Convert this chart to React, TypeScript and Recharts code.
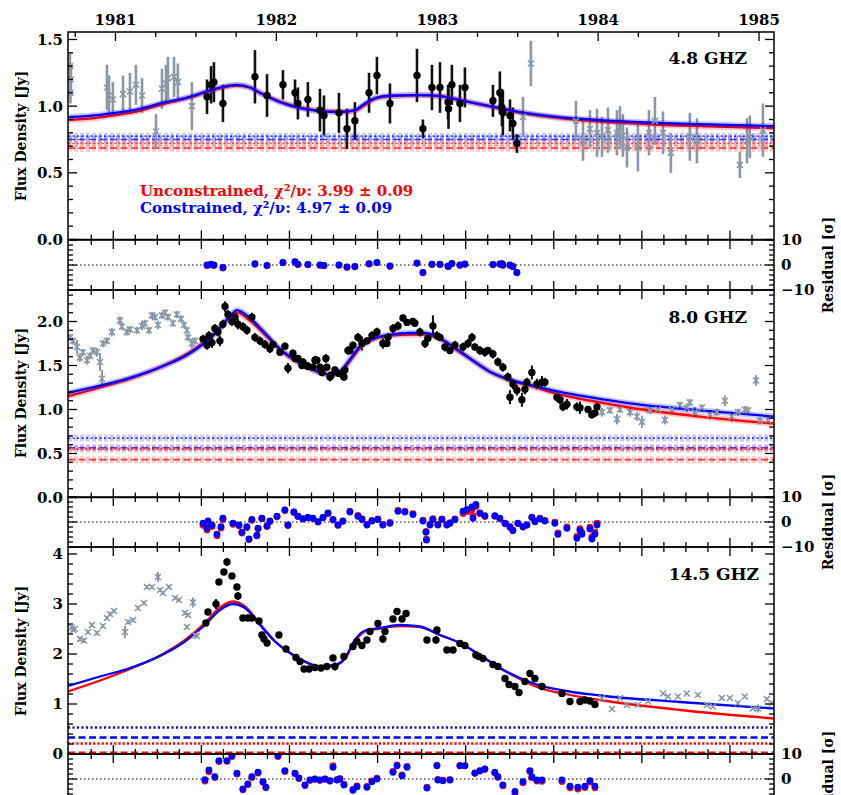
import React from 'react';
import { ComposedChart, Line, Scatter, ErrorBar, XAxis, YAxis, ReferenceLine } from 'recharts';

// x values are decimal years; the bottom ticks are MJD (every 50 d, long every 200 d)
const X_DOMAIN: [number, number] = [1980.705, 1985.093];
const W = 841;
const LEFT = 68;
const RIGHT = 774;
const FONT = '"DejaVu Serif", "Liberation Serif", serif';
const BLUE = '#0000ff';
const RED = '#ff0000';
const GRAY = '#8a98a7';

// ---------- 4.8 GHz ----------
const gray48 = [
  [1980.717, 1.3, 0.1], [1980.723, 1.2, 0.12], [1980.72, 1.1, 0.08], [1980.947, 1.14, 0.17],
  [1980.96, 1.08, 0.15], [1980.984, 1.05, 0.13], [1981.047, 1.09, 0.14], [1981.09, 1.11, 0.14],
  [1981.127, 1.16, 0.15], [1981.165, 1.08, 0.13], [1981.252, 0.81, 0.13], [1981.289, 1.13, 0.15],
  [1981.314, 1.17, 0.14], [1981.326, 1.21, 0.16], [1981.364, 1.22, 0.15], [1981.388, 1.18, 0.14],
  [1981.475, 1.0, 0.18], [1983.533, 0.92, 0.15], [1983.582, 1.32, 0.17], [1983.862, 0.89, 0.15],
  [1983.906, 0.74, 0.15], [1983.949, 0.83, 0.14], [1983.993, 0.8, 0.18], [1984.024, 0.77, 0.15],
  [1984.061, 0.82, 0.17], [1984.117, 0.8, 0.17], [1984.136, 0.84, 0.16], [1984.154, 0.78, 0.16],
  [1984.179, 0.69, 0.15], [1984.247, 0.69, 0.18], [1984.316, 0.8, 0.17], [1984.353, 0.89, 0.18],
  [1984.403, 0.8, 0.16], [1984.452, 0.65, 0.15], [1984.57, 0.77, 0.18], [1984.614, 0.74, 0.17],
  [1984.881, 0.56, 0.1], [1984.925, 0.74, 0.17], [1984.943, 0.77, 0.16], [1985.024, 0.82, 0.2],
];
const black48 = [
  [1981.569, 1.07, 0.13], [1981.594, 1.16, 0.14], [1981.612, 1.18, 0.15], [1981.668, 1.02, 0.14],
  [1981.867, 1.22, 0.2], [1981.942, 1.08, 0.16], [1982.041, 1.16, 0.11], [1982.116, 1.1, 0.1],
  [1982.134, 1.02, 0.12], [1982.196, 1.05, 0.13], [1982.271, 0.97, 0.16], [1982.296, 0.93, 0.15],
  [1982.389, 0.95, 0.15], [1982.439, 0.83, 0.15], [1982.488, 0.89, 0.14], [1982.576, 1.1, 0.15],
  [1982.625, 1.23, 0.14], [1982.706, 1.02, 0.15], [1982.874, 1.23, 0.2], [1982.911, 0.83, 0.07],
  [1982.967, 1.14, 0.17], [1983.017, 1.14, 0.19], [1983.067, 1.03, 0.13], [1983.07, 0.98, 0.15],
  [1983.091, 1.16, 0.15], [1983.141, 1.02, 0.14], [1983.172, 1.14, 0.15], [1983.346, 1.04, 0.12],
  [1983.389, 1.1, 0.16], [1983.402, 0.99, 0.14], [1983.408, 0.95, 0.17], [1983.452, 0.93, 0.12],
  [1983.47, 0.87, 0.12], [1983.495, 0.72, 0.07],
];
const fitYears48 = [1980.705, 1980.904, 1980.984, 1981.152, 1981.277, 1981.463, 1981.618, 1981.755, 1981.836, 1981.898, 1982.022, 1982.147, 1982.271, 1982.395, 1982.488, 1982.551, 1982.613, 1982.706, 1982.892, 1983.017, 1983.141, 1983.327, 1983.514, 1983.763, 1984.011, 1984.26, 1984.632, 1985.093];
const fitBlue48 = [0.917, 0.935, 0.947, 0.98, 1.02, 1.07, 1.13, 1.16, 1.14, 1.1, 1.03, 0.985, 0.963, 0.955, 0.97, 1.02, 1.06, 1.078, 1.083, 1.075, 1.045, 1.0, 0.955, 0.917, 0.895, 0.88, 0.865, 0.85];
const fitRed48 = [0.895, 0.915, 0.93, 0.965, 1.01, 1.065, 1.125, 1.155, 1.14, 1.1, 1.035, 0.99, 0.965, 0.96, 0.965, 1.01, 1.055, 1.075, 1.082, 1.075, 1.045, 0.998, 0.952, 0.91, 0.885, 0.868, 0.85, 0.835];
// blue dotted, blue dashed, red dotted, red dashed
const levels48 = [0.775, 0.75, 0.72, 0.685];
// [year, blue residual, red residual]
const res48 = [
  [1981.569, 0, -0.2], [1981.594, 0.3, 0.1], [1981.612, 0, -0.2], [1981.668, -1, -1.2],
  [1981.867, 0.5, 0.3], [1981.942, -0.2, -0.3], [1982.041, 1, 0.9], [1982.116, 1.3, 1.2],
  [1982.134, 0.3, 0.2], [1982.196, 0.2, 0.1], [1982.271, 0, -0.1], [1982.296, -0.2, -0.3],
  [1982.389, 0, -0.1], [1982.439, -0.8, -0.9], [1982.488, -0.6, -0.7], [1982.576, 0.5, 0.4],
  [1982.625, 1, 0.9], [1982.706, -0.4, -0.5], [1982.874, 0.8, 0.7], [1982.911, -3, -3.1],
  [1982.967, 0.3, 0.2], [1983.017, 0.3, 0.2], [1983.067, -0.5, -0.6], [1983.07, -0.4, -0.5],
  [1983.091, 0.6, 0.5], [1983.141, 0, -0.1], [1983.172, 0.4, 0.3], [1983.346, 0.2, 0.1],
  [1983.389, 0.4, 0.3], [1983.402, 0.5, 0.4], [1983.408, 0, -0.1], [1983.452, 0, -0.1],
  [1983.47, -0.6, -0.7], [1983.495, -3, -3.1],
];

// ---------- 8.0 GHz ----------
const gray80 = [
  [1980.717, 1.82, 0.04], [1980.736, 1.78, 0.04], [1980.761, 1.71, 0.08], [1980.779, 1.59, 0.05],
  [1980.798, 1.65, 0.04], [1980.823, 1.56, 0.05], [1980.842, 1.61, 0.04], [1980.86, 1.67, 0.04],
  [1980.885, 1.65, 0.05], [1980.904, 1.54, 0.1], [1980.916, 1.35, 0.1], [1980.922, 1.75, 0.04],
  [1980.947, 1.78, 0.04], [1980.978, 1.88, 0.05], [1981.028, 2.01, 0.05], [1981.04, 1.94, 0.04],
  [1981.071, 1.88, 0.04], [1981.09, 1.91, 0.04], [1981.134, 1.9, 0.04], [1981.165, 1.95, 0.05],
  [1981.183, 1.98, 0.04], [1981.208, 1.9, 0.04], [1981.227, 2.07, 0.04], [1981.245, 2.05, 0.04],
  [1981.264, 1.96, 0.05], [1981.289, 2.07, 0.04], [1981.308, 2.1, 0.04], [1981.326, 2.05, 0.04],
  [1981.357, 1.98, 0.04], [1981.382, 2.08, 0.04], [1981.407, 2.03, 0.04], [1981.426, 1.96, 0.04],
  [1981.444, 1.9, 0.04], [1981.451, 1.82, 0.04], [1981.475, 1.75, 0.05], [1981.494, 1.78, 0.04],
  [1984.024, 0.97, 0.05], [1984.073, 0.99, 0.04], [1984.117, 0.89, 0.06], [1984.136, 1.0, 0.04],
  [1984.198, 0.97, 0.05], [1984.241, 0.92, 0.05], [1984.272, 0.86, 0.07], [1984.322, 0.99, 0.04],
  [1984.372, 1.0, 0.04], [1984.415, 0.88, 0.05], [1984.459, 1.0, 0.04], [1984.508, 1.05, 0.04],
  [1984.551, 1.02, 0.05], [1984.57, 1.08, 0.04], [1984.601, 0.97, 0.06], [1984.645, 1.02, 0.04],
  [1984.695, 0.94, 0.05], [1984.738, 0.97, 0.04], [1984.788, 1.1, 0.06], [1984.831, 0.92, 0.06],
  [1984.869, 0.97, 0.04], [1984.912, 1.0, 0.04], [1984.931, 0.99, 0.04], [1984.981, 1.33, 0.06],
  [1985.006, 0.87, 0.04], [1985.055, 0.88, 0.04],
];
const black80 = [
  [1981.544, 1.8, 0.05], [1981.569, 1.73, 0.05], [1981.581, 1.84, 0.05], [1981.6, 1.76, 0.06],
  [1981.618, 1.92, 0.05], [1981.637, 1.88, 0.05], [1981.649, 1.78, 0.06], [1981.668, 1.97, 0.05],
  [1981.681, 2.17, 0.06], [1981.699, 2.08, 0.05], [1981.724, 2.0, 0.05], [1981.743, 2.05, 0.05],
  [1981.761, 1.97, 0.06], [1981.792, 1.94, 0.05], [1981.817, 1.9, 0.05], [1981.848, 2.05, 0.05],
  [1981.867, 1.82, 0.05], [1981.898, 1.78, 0.05], [1981.929, 1.74, 0.05], [1981.96, 1.69, 0.05],
  [1981.979, 1.74, 0.04], [1982.022, 1.65, 0.04], [1982.053, 1.72, 0.04], [1982.072, 1.47, 0.06],
  [1982.103, 1.64, 0.04], [1982.116, 1.58, 0.04], [1982.134, 1.58, 0.04], [1982.159, 1.5, 0.04],
  [1982.165, 1.54, 0.04], [1982.19, 1.5, 0.04], [1982.196, 1.49, 0.04], [1982.227, 1.48, 0.04],
  [1982.24, 1.56, 0.05], [1982.252, 1.56, 0.04], [1982.271, 1.48, 0.04], [1982.283, 1.42, 0.04],
  [1982.308, 1.58, 0.05], [1982.314, 1.48, 0.04], [1982.333, 1.37, 0.05], [1982.339, 1.39, 0.04],
  [1982.364, 1.45, 0.04], [1982.389, 1.41, 0.04], [1982.414, 1.39, 0.05], [1982.42, 1.37, 0.04],
  [1982.426, 1.45, 0.04], [1982.445, 1.67, 0.05], [1982.457, 1.67, 0.04], [1982.476, 1.73, 0.04],
  [1982.507, 1.82, 0.05], [1982.532, 1.75, 0.08], [1982.563, 1.78, 0.04], [1982.594, 1.84, 0.05],
  [1982.625, 1.88, 0.05], [1982.662, 1.75, 0.06], [1982.687, 1.75, 0.04], [1982.694, 1.82, 0.05],
  [1982.725, 1.92, 0.05], [1982.756, 1.95, 0.05], [1982.787, 2.04, 0.04], [1982.812, 1.99, 0.04],
  [1982.849, 2.0, 0.04], [1982.861, 1.98, 0.04], [1982.892, 1.88, 0.05], [1982.924, 1.75, 0.05],
  [1982.942, 1.81, 0.04], [1982.973, 1.95, 0.12], [1982.998, 1.84, 0.05], [1983.017, 1.82, 0.04],
  [1983.048, 1.71, 0.05], [1983.079, 1.67, 0.04], [1983.11, 1.73, 0.05], [1983.16, 1.71, 0.05],
  [1983.191, 1.75, 0.05], [1983.216, 1.82, 0.05], [1983.234, 1.71, 0.04], [1983.265, 1.67, 0.05],
  [1983.296, 1.65, 0.05], [1983.315, 1.67, 0.04], [1983.346, 1.63, 0.05], [1983.377, 1.54, 0.05],
  [1983.408, 1.48, 0.05], [1983.439, 1.37, 0.05], [1983.452, 1.14, 0.08], [1983.47, 1.29, 0.06],
  [1983.495, 1.22, 0.06], [1983.526, 1.11, 0.08], [1983.545, 1.23, 0.06], [1983.557, 1.31, 0.05],
  [1983.588, 1.42, 0.08], [1983.619, 1.29, 0.06], [1983.651, 1.31, 0.07], [1983.669, 1.31, 0.05],
  [1983.744, 1.14, 0.05], [1983.763, 1.11, 0.05], [1983.781, 1.03, 0.05], [1983.806, 1.06, 0.06],
  [1983.868, 1.03, 0.05], [1983.887, 1.02, 0.07], [1983.937, 1.0, 0.04], [1983.961, 0.94, 0.04],
  [1983.98, 0.96, 0.04], [1983.993, 1.03, 0.04],
];
const fitYears80 = [1980.705, 1980.904, 1981.09, 1981.277, 1981.463, 1981.618, 1981.712, 1981.755, 1981.836, 1981.929, 1982.022, 1982.147, 1982.271, 1982.346, 1982.395, 1982.457, 1982.52, 1982.594, 1982.706, 1982.83, 1982.924, 1983.017, 1983.11, 1983.203, 1983.327, 1983.452, 1983.576, 1983.763, 1983.949, 1984.198, 1984.632, 1985.093];
const fitBlue80 = [1.19, 1.27, 1.36, 1.48, 1.64, 1.86, 2.06, 2.13, 2.04, 1.87, 1.69, 1.53, 1.42, 1.39, 1.43, 1.57, 1.72, 1.8, 1.85, 1.87, 1.87, 1.81, 1.7, 1.58, 1.43, 1.34, 1.28, 1.2, 1.14, 1.07, 0.99, 0.92];
const fitRed80 = [1.15, 1.25, 1.35, 1.48, 1.65, 1.87, 2.05, 2.1, 2.01, 1.85, 1.68, 1.52, 1.42, 1.4, 1.42, 1.55, 1.7, 1.79, 1.84, 1.85, 1.85, 1.8, 1.69, 1.58, 1.43, 1.33, 1.27, 1.17, 1.1, 1.02, 0.92, 0.84];
const levels80 = [0.675, 0.565, 0.55, 0.43];
const res80 = [
  [1981.544, -0.5, -1.3], [1981.569, -2.5, -3.2], [1981.575, 0.4, -0.3], [1981.6, -1.2, -1.8],
  [1981.631, -4.9, -5.5], [1981.656, -1.9, -2.4], [1981.668, 1.5, 1.0], [1981.73, -0.5, -0.9],
  [1981.768, -1.2, -1.5], [1981.786, -4.1, -4.4], [1981.817, -1.9, -2.2], [1981.83, -6.8, -7.0],
  [1981.848, 1.0, 0.7], [1981.879, -5.3, -5.5], [1981.886, -2.5, -2.7], [1981.91, 1.5, 1.3],
  [1981.942, -1.6, -1.8], [1981.96, 0.4, 0.2], [1982.004, 2.3, 2.1], [1982.053, 4.8, 4.6],
  [1982.072, -1.2, -1.4], [1982.109, 4.0, 3.9], [1982.134, 2.3, 2.2], [1982.165, 1.3, 1.2],
  [1982.196, 1.8, 1.7], [1982.227, 1.5, 1.4], [1982.259, 0.1, 0.0], [1982.29, 1.8, 1.7],
  [1982.321, 3.6, 3.4], [1982.352, 1.0, 0.8], [1982.383, -1.2, -1.3], [1982.414, 0.4, 0.3],
  [1982.457, 4.0, 4.3], [1982.507, 2.3, 2.6], [1982.532, 1.0, 1.3], [1982.563, -1.2, -0.9],
  [1982.594, 0.4, 0.6], [1982.631, 1.0, 1.2], [1982.662, -1.2, -1.0], [1982.706, -0.5, -0.2],
  [1982.756, 4.3, 4.6], [1982.799, 4.0, 4.3], [1982.849, 3.0, 3.3], [1982.911, 0.4, 0.7],
  [1982.93, -4.1, -3.8], [1982.933, -7.2, -6.9], [1982.955, -1.2, -0.9], [1982.973, 1.0, 1.3],
  [1983.004, -1.2, -0.9], [1983.029, 1.0, 1.2], [1983.06, -1.2, -1.0], [1983.079, -0.5, -0.3],
  [1983.11, 1.0, 1.2], [1983.16, 4.3, 3.4], [1983.185, 5.0, 4.2], [1983.216, 6.0, 5.0],
  [1983.222, 1.5, 2.5], [1983.24, 7.0, 6.2], [1983.265, 3.6, 3.4], [1983.296, 2.5, 2.2],
  [1983.358, 2.5, 2.3], [1983.389, 1.5, 1.3], [1983.421, -0.5, -0.7], [1983.452, -1.9, -2.1],
  [1983.47, -3.3, -3.5], [1983.501, -0.5, -0.6], [1983.533, -1.9, -2.0], [1983.557, -1.2, -1.2],
  [1983.588, 1.8, 1.9], [1983.607, 0.1, 0.3], [1983.638, 1.3, 1.5], [1983.669, 0.4, 0.6],
  [1983.731, -0.5, -0.1], [1983.75, -4.9, -4.4], [1983.806, -2.5, -2.0], [1983.868, -6.5, -5.8],
  [1983.887, -3.3, -2.7], [1983.899, -4.9, -4.2], [1983.949, -2.8, -2.1], [1983.961, -6.8, -6.0],
  [1983.98, -4.9, -4.1], [1983.993, -1.2, -0.5],
];

// ---------- 14.5 GHz ----------
const gray145 = [
  [1980.73, 2.53, 0.04], [1980.736, 2.48, 0.04], [1980.748, 2.5, 0.04], [1980.779, 2.3, 0.05],
  [1980.804, 2.27, 0.05], [1980.829, 2.44, 0.04], [1980.854, 2.58, 0.04], [1980.885, 2.42, 0.04],
  [1980.922, 2.56, 0.04], [1980.947, 2.72, 0.04], [1980.966, 2.8, 0.04], [1980.991, 2.86, 0.04],
  [1981.059, 2.44, 0.12], [1981.078, 2.64, 0.04], [1981.109, 2.68, 0.04], [1981.14, 2.92, 0.04],
  [1981.177, 3.02, 0.04], [1981.196, 3.34, 0.04], [1981.227, 3.34, 0.04], [1981.264, 3.54, 0.1],
  [1981.277, 3.28, 0.04], [1981.295, 3.22, 0.04], [1981.332, 3.34, 0.04], [1981.37, 3.12, 0.04],
  [1981.395, 3.08, 0.04], [1981.432, 2.82, 0.04], [1981.451, 2.78, 0.04], [1981.444, 2.54, 0.04],
  [1981.482, 3.03, 0.1], [1981.494, 2.38, 0.04], [1981.507, 2.36, 0.04],
  [1984.024, 1.12, 0.03], [1984.086, 0.9, 0.03], [1984.136, 1.12, 0.03], [1984.179, 0.98, 0.03],
  [1984.247, 0.98, 0.03], [1984.31, 1.05, 0.03], [1984.403, 1.21, 0.03], [1984.434, 1.15, 0.03],
  [1984.496, 1.15, 0.03], [1984.551, 1.21, 0.03], [1984.62, 1.18, 0.03], [1984.676, 0.98, 0.03],
  [1984.713, 0.95, 0.03], [1984.769, 1.12, 0.03], [1984.819, 1.12, 0.03], [1984.869, 1.02, 0.03],
  [1984.912, 1.15, 0.03], [1984.962, 0.91, 0.03], [1984.993, 0.91, 0.08], [1985.049, 1.1, 0.03],
  [1985.08, 1.02, 0.03],
];
const black145 = [
  [1981.562, 2.62, 0.04], [1981.575, 2.84, 0.05], [1981.625, 3.0, 0.1], [1981.643, 3.44, 0.05],
  [1981.674, 3.64, 0.05], [1981.693, 3.84, 0.08], [1981.724, 3.56, 0.05], [1981.755, 3.34, 0.05],
  [1981.761, 3.16, 0.08], [1981.792, 2.72, 0.04], [1981.823, 2.72, 0.04], [1981.848, 2.72, 0.04],
  [1981.892, 2.66, 0.04], [1981.91, 2.38, 0.04], [1981.923, 2.3, 0.04], [1981.942, 2.22, 0.04],
  [1982.016, 2.38, 0.04], [1982.06, 2.1, 0.04], [1982.122, 1.93, 0.04], [1982.147, 1.85, 0.04],
  [1982.172, 1.7, 0.04], [1982.203, 1.7, 0.04], [1982.24, 1.73, 0.04], [1982.277, 1.72, 0.04],
  [1982.314, 1.75, 0.04], [1982.352, 1.92, 0.04], [1982.364, 1.75, 0.08], [1982.42, 1.95, 0.04],
  [1982.476, 2.15, 0.04], [1982.501, 2.25, 0.04], [1982.532, 2.17, 0.04], [1982.563, 2.28, 0.04],
  [1982.582, 2.45, 0.04], [1982.631, 2.61, 0.04], [1982.662, 2.3, 0.08], [1982.675, 2.45, 0.04],
  [1982.725, 2.7, 0.04], [1982.75, 2.85, 0.04], [1982.781, 2.7, 0.04], [1982.806, 2.81, 0.04],
  [1982.936, 2.28, 0.04], [1982.992, 2.28, 0.07], [1982.998, 2.48, 0.04], [1983.06, 2.08, 0.04],
  [1983.098, 2.08, 0.04], [1983.141, 2.21, 0.04], [1983.172, 2.17, 0.04], [1983.24, 1.98, 0.04],
  [1983.259, 1.95, 0.04], [1983.284, 1.91, 0.04], [1983.346, 1.79, 0.04], [1983.377, 1.75, 0.04],
  [1983.421, 1.51, 0.04], [1983.446, 1.39, 0.04], [1983.483, 1.35, 0.04], [1983.508, 1.23, 0.04],
  [1983.545, 1.45, 0.04], [1983.576, 1.61, 0.04], [1983.607, 1.51, 0.04], [1983.651, 1.35, 0.04],
  [1983.775, 1.21, 0.04], [1983.825, 1.05, 0.04], [1983.887, 1.05, 0.04], [1983.918, 1.08, 0.04],
  [1983.949, 1.06, 0.04], [1983.98, 0.99, 0.04],
];
const fitYears145 = [1980.705, 1980.904, 1981.09, 1981.277, 1981.432, 1981.556, 1981.649, 1981.73, 1981.805, 1981.898, 1981.991, 1982.085, 1982.178, 1982.271, 1982.364, 1982.426, 1982.488, 1982.551, 1982.644, 1982.768, 1982.892, 1983.017, 1983.141, 1983.265, 1983.389, 1983.514, 1983.638, 1983.763, 1984.011, 1984.508, 1985.093];
const fitBlue145 = [1.36, 1.55, 1.72, 1.96, 2.25, 2.58, 2.88, 3.0, 2.92, 2.58, 2.25, 2.02, 1.85, 1.75, 1.78, 1.92, 2.28, 2.47, 2.52, 2.58, 2.55, 2.38, 2.22, 1.98, 1.72, 1.52, 1.37, 1.28, 1.17, 1.04, 0.91];
const fitRed145 = [1.25, 1.47, 1.7, 1.97, 2.28, 2.62, 2.93, 3.05, 2.95, 2.6, 2.26, 2.02, 1.84, 1.74, 1.77, 1.9, 2.25, 2.45, 2.51, 2.56, 2.54, 2.38, 2.22, 1.98, 1.72, 1.5, 1.32, 1.22, 1.08, 0.88, 0.71];
const levels145 = [0.53, 0.33, 0.21, 0.025];
const res145 = [
  [1981.556, -0.3, -0.8], [1981.581, 3.6, 2.9], [1981.618, 0.9, 0.6], [1981.643, 7.3, 7.0],
  [1981.693, 7.3, 7.1], [1981.724, 9.3, 9.0], [1981.755, 2.3, 2.0], [1981.792, -4.0, -4.3],
  [1981.823, -2.0, -2.2], [1981.848, 0.9, 0.6], [1981.886, 2.7, 2.4], [1981.917, -1.1, -1.3],
  [1981.935, -3.3, -3.5], [1982.01, 9.3, 9.0], [1982.053, 3.3, 3.0], [1982.116, 2.3, 2.1],
  [1982.14, 0.4, 0.2], [1982.178, -2.4, -2.6], [1982.209, -0.4, -0.5], [1982.24, 0.0, -0.1],
  [1982.271, -0.4, -0.5], [1982.302, 0.0, -0.1], [1982.333, -0.7, -0.8], [1982.352, 4.7, 5.3],
  [1982.377, -0.4, -0.3], [1982.395, 0.0, 0.1], [1982.42, -2.4, -2.1], [1982.476, -4.5, -4.2],
  [1982.501, -3.1, -2.8], [1982.563, -3.3, -3.0], [1982.594, -1.1, -0.8], [1982.625, 0.0, 0.3],
  [1982.725, 2.7, 3.0], [1982.75, 5.3, 5.6], [1982.781, 1.3, 1.6], [1982.812, 4.7, 5.0],
  [1982.936, -3.6, -3.3], [1982.998, 5.3, 5.5], [1983.004, -0.4, -0.2], [1983.035, -0.7, -0.5],
  [1983.079, -0.4, -0.3], [1983.141, 5.3, 5.4], [1983.172, 5.3, 5.3], [1983.234, 2.3, 2.4],
  [1983.265, 3.3, 3.2], [1983.296, 4.0, 3.9], [1983.358, 2.7, 2.4], [1983.377, 0.9, 0.7],
  [1983.408, -2.4, -2.7], [1983.483, -5.0, -5.7], [1983.533, -1.1, -1.5], [1983.576, 3.3, 3.0],
  [1983.588, 0.9, 0.5], [1983.619, -0.4, -0.8], [1983.651, -0.4, -0.9], [1983.775, -0.4, -1.0],
  [1983.825, -2.9, -3.5], [1983.874, -3.3, -4.0], [1983.918, -2.9, -3.4], [1983.949, -0.7, -1.2],
  [1983.98, -2.9, -3.5],
];

// ---------- axis ticks ----------
const mjdToYear = (m: number) => 1981 + (m - 44605) / 365.25;
const yearToMjd = (y: number) => Math.round((y - 1981) * 365.25 + 44605);
const mjdTicks: number[] = [];
for (let m = 44500; m <= 46100; m += 50) {
  const y = mjdToYear(m);
  if (y > X_DOMAIN[0] + 0.01 && y < X_DOMAIN[1] - 0.01) mjdTicks.push(y);
}
const yearTicks: number[] = [];
for (let q = 1980.75; q <= 1985.001; q += 0.25) yearTicks.push(q);

const steps = (lo: number, hi: number, step: number) => {
  const out: number[] = [];
  for (let i = 0; lo + i * step <= hi + 1e-9; i++) out.push(Math.round((lo + i * step) * 1000) / 1000);
  return out;
};

const txt = { fontFamily: FONT, fontWeight: 700 as const, fill: '#000' };

const xTick = (y0: number, dir: number, years: boolean) => (p: any) => {
  const v = p.payload.value;
  const major = years ? Math.abs(v - Math.round(v)) < 1e-6 : yearToMjd(v) % 200 === 0;
  const len = major ? 9 : 5;
  return (
    <g>
      <line x1={p.x} x2={p.x} y1={y0} y2={y0 + dir * len} stroke="#000" strokeWidth={1.3} />
      {years && major ? (
        <text x={p.x} y={y0 - 7} textAnchor="middle" fontSize={15} {...txt}>{Math.round(v)}</text>
      ) : null}
    </g>
  );
};

const yTick = (side: 'l' | 'r', majorStep: number, fmt: (v: number) => string, label: boolean) => (p: any) => {
  const v = p.payload.value;
  const major = Math.abs(v / majorStep - Math.round(v / majorStep)) < 1e-6;
  const x0 = side === 'l' ? LEFT : RIGHT;
  const d = side === 'l' ? 1 : -1;
  const len = major ? 9 : 5;
  return (
    <g>
      <line x1={x0} x2={x0 + d * len} y1={p.y} y2={p.y} stroke="#000" strokeWidth={1.3} />
      {label && major ? (
        <text x={side === 'l' ? LEFT - 5 : RIGHT + 7} y={p.y} dy="0.36em" textAnchor={side === 'l' ? 'end' : 'start'} fontSize={15} {...txt}>
          {fmt(v)}
        </text>
      ) : null}
    </g>
  );
};

const fmt1 = (v: number) => v.toFixed(1);
const fmt0 = (v: number) => String(Math.round(v));
const fmtRes = (v: number) => (v < 0 ? '\u2212' + Math.abs(v) : String(v));

interface PanelProps {
  plotTop: number;
  plotH: number;
  mt: number;
  mb: number;
  yDomain: [number, number];
  yTicks: number[];
  yMajor: number;
  fmt: (v: number) => string;
  labelSide: 'l' | 'r';
  topYears?: boolean;
  children: React.ReactNode;
}

// axes are 1px thick; margins are shifted by that pixel so the plot box lands where it should
function Panel({ plotTop, plotH, mt, mb, yDomain, yTicks, yMajor, fmt, labelSide, topYears, children }: PanelProps) {
  return (
    <div style={{ position: 'absolute', left: 0, top: plotTop - mt }}>
      <ComposedChart width={W} height={mt + plotH + mb} margin={{ top: mt - 1, right: W - RIGHT - 1, bottom: mb - 1, left: LEFT - 1 }}>
        <XAxis xAxisId="b" dataKey="x" type="number" domain={X_DOMAIN} allowDataOverflow ticks={mjdTicks} interval={0}
          height={1} tickLine={false} axisLine={false} tick={xTick(mt + plotH, -1, false)} />
        <XAxis xAxisId="t" orientation="top" dataKey="x" type="number" domain={X_DOMAIN} allowDataOverflow
          ticks={topYears ? yearTicks : mjdTicks} interval={0} height={1} tickLine={false} axisLine={false}
          tick={xTick(mt, 1, !!topYears)} />
        <YAxis yAxisId="l" type="number" domain={yDomain} allowDataOverflow ticks={yTicks} interval={0} width={1}
          tickLine={false} axisLine={false} tick={yTick('l', yMajor, fmt, labelSide === 'l')} />
        <YAxis yAxisId="r" orientation="right" type="number" domain={yDomain} allowDataOverflow ticks={yTicks} interval={0}
          width={1} tickLine={false} axisLine={false} tick={yTick('r', yMajor, fmt, labelSide === 'r')} />
        {children}
      </ComposedChart>
      <svg width={W} height={mt + plotH + mb} style={{ position: 'absolute', left: 0, top: 0, pointerEvents: 'none' }}>
        <rect x={LEFT} y={mt} width={RIGHT - LEFT} height={plotH} fill="none" stroke="#000" strokeWidth={1.5} />
      </svg>
    </div>
  );
}

const toPts = (a: number[][]) => a.map(([x, y, e]) => ({ x, y, e }));

const grayShape = (p: any) => (
  <path d={`M${p.cx - 3},${p.cy - 3}L${p.cx + 3},${p.cy + 3}M${p.cx - 3},${p.cy + 3}L${p.cx + 3},${p.cy - 3}`}
    stroke={GRAY} strokeWidth={1.6} fill="none" />
);
const blackShape = (p: any) => <circle cx={p.cx} cy={p.cy} r={3.7} fill="#000" />;
const blueDot = (p: any) => <circle cx={p.cx} cy={p.cy} r={3.4} fill={BLUE} />;
const redDot = (p: any) => <circle cx={p.cx} cy={p.cy} r={3.4} fill={RED} />;

// quiescent levels, drawn as flat two-point lines across the x range
function levelLines(levels: number[], soft: boolean, id: string) {
  const styles = [
    { c: '0,0,255', dash: '2 2.5' },
    { c: '0,0,255', dash: '7 3.5' },
    { c: '255,0,0', dash: '2.2 2' },
    { c: '255,0,0', dash: '7 3.5' },
  ];
  const common = { dataKey: 'y', xAxisId: 'b', yAxisId: 'l', type: 'linear' as const, dot: false, activeDot: false, isAnimationActive: false };
  const out: React.ReactElement[] = [];
  levels.forEach((v, i) => {
    const s = styles[i];
    const data = [{ x: X_DOMAIN[0], y: v }, { x: X_DOMAIN[1], y: v }];
    if (soft) {
      out.push(<Line key={`${id}s${i}`} data={data} {...common} stroke={`rgba(${s.c},0.2)`} strokeWidth={7} strokeDasharray="4 2" />);
    }
    out.push(<Line key={`${id}c${i}`} data={data} {...common} stroke={`rgba(${s.c},${soft ? 0.75 : 1})`} strokeWidth={soft ? 1.6 : 2.4} strokeDasharray={s.dash} />);
  });
  return out;
}

function dataSeries(gray: number[][], black: number[][], id: string, ew: number) {
  return [
    <Scatter key={`${id}g`} data={toPts(gray)} dataKey="y" xAxisId="b" yAxisId="l" shape={grayShape} isAnimationActive={false}>
      <ErrorBar dataKey="e" direction="y" width={0} stroke={GRAY} strokeWidth={ew} />
    </Scatter>,
    <Scatter key={`${id}k`} data={toPts(black)} dataKey="y" xAxisId="b" yAxisId="l" shape={blackShape} isAnimationActive={false}>
      <ErrorBar dataKey="e" direction="y" width={0} stroke="#111" strokeWidth={ew} />
    </Scatter>,
  ];
}

function fitLines(years: number[], blue: number[], red: number[], id: string, halo: boolean) {
  const b = years.map((x, i) => ({ x, y: blue[i] }));
  const r = years.map((x, i) => ({ x, y: red[i] }));
  const common = { dataKey: 'y', xAxisId: 'b', yAxisId: 'l', type: 'monotone' as const, dot: false, activeDot: false, isAnimationActive: false };
  const out: React.ReactElement[] = [];
  if (halo) out.push(<Line key={`${id}rh`} data={r} {...common} stroke="rgba(255,0,0,0.22)" strokeWidth={6} />);
  out.push(<Line key={`${id}r`} data={r} {...common} stroke={RED} strokeWidth={2.3} />);
  if (halo) out.push(<Line key={`${id}bh`} data={b} {...common} stroke="rgba(0,0,255,0.22)" strokeWidth={6} />);
  out.push(<Line key={`${id}b`} data={b} {...common} stroke={BLUE} strokeWidth={2.3} />);
  return out;
}

function residualSeries(res: number[][], id: string) {
  return [
    <ReferenceLine key={`${id}z`} y={0} xAxisId="b" yAxisId="l" stroke="#000" strokeWidth={1.2} strokeDasharray="1.5 2.5" />,
    <Scatter key={`${id}r`} data={res.map(([x, , r]) => ({ x, y: r }))} dataKey="y" xAxisId="b" yAxisId="l" shape={redDot} isAnimationActive={false} />,
    <Scatter key={`${id}b`} data={res.map(([x, b]) => ({ x, y: b }))} dataKey="y" xAxisId="b" yAxisId="l" shape={blueDot} isAnimationActive={false} />,
  ];
}

const resTicks = steps(-10, 10, 2);

export default function App() {
  return (
    <div style={{ position: 'absolute', left: 0, top: 0, width: W, height: 795, overflow: 'hidden', background: '#fff' }}>
      {/* residual strips first, so the flux panels sit on top of them */}
      <Panel plotTop={239.5} plotH={50} mt={10} mb={10} yDomain={[-10, 10]} yTicks={resTicks} yMajor={10} fmt={fmtRes} labelSide="r">
        {residualSeries(res48, 'r48')}
      </Panel>
      <Panel plotTop={497} plotH={50} mt={10} mb={10} yDomain={[-10, 10]} yTicks={resTicks} yMajor={10} fmt={fmtRes} labelSide="r">
        {residualSeries(res80, 'r80')}
      </Panel>
      <Panel plotTop={754} plotH={50} mt={10} mb={10} yDomain={[-10, 10]} yTicks={resTicks} yMajor={10} fmt={fmtRes} labelSide="r">
        {residualSeries(res145, 'r145')}
      </Panel>

      {/* 4.8 GHz */}
      <Panel plotTop={32} plotH={207.5} mt={32} mb={10} yDomain={[0, 1.556]} yTicks={steps(0, 1.5, 0.1)} yMajor={0.5} fmt={fmt1} labelSide="l" topYears>
        {levelLines(levels48, true, 'l48')}
        {dataSeries(gray48, black48, 'd48', 2.6)}
        {fitLines(fitYears48, fitBlue48, fitRed48, 'f48', true)}
      </Panel>

      {/* 8.0 GHz */}
      <Panel plotTop={289.5} plotH={207.5} mt={10} mb={10} yDomain={[0, 2.358]} yTicks={steps(0, 2.3, 0.1)} yMajor={0.5} fmt={fmt1} labelSide="l">
        {levelLines(levels80, true, 'l80')}
        {dataSeries(gray80, black80, 'd80', 2)}
        {fitLines(fitYears80, fitBlue80, fitRed80, 'f80', true)}
      </Panel>

      {/* 14.5 GHz */}
      <Panel plotTop={547} plotH={207} mt={10} mb={10} yDomain={[0, 4.14]} yTicks={steps(0, 4, 0.2)} yMajor={1} fmt={fmt0} labelSide="l">
        {levelLines(levels145, false, 'l145')}
        {dataSeries(gray145, black145, 'd145', 2)}
        {fitLines(fitYears145, fitBlue145, fitRed145, 'f145', false)}
      </Panel>

      {/* labels */}
      <svg width={W} height={795} style={{ position: 'absolute', left: 0, top: 0, pointerEvents: 'none' }}>
        {[136, 393, 651].map((cy) => (
          <text key={`fl${cy}`} transform={`translate(26,${cy}) rotate(-90)`} textAnchor="middle" fontSize={14} {...txt}>
            Flux Density [Jy]
          </text>
        ))}
        {[265, 522, 779].map((cy) => (
          <text key={`rl${cy}`} transform={`translate(833,${cy}) rotate(-90)`} textAnchor="middle" fontSize={14} {...txt}>
            Residual [σ]
          </text>
        ))}
        <text x={747} y={64} textAnchor="end" fontSize={17} {...txt}>4.8 GHZ</text>
        <text x={747} y={323} textAnchor="end" fontSize={17} {...txt}>8.0 GHZ</text>
        <text x={759} y={580} textAnchor="end" fontSize={17} {...txt}>14.5 GHZ</text>
        <text x={140} y={196} fontSize={15} fontFamily={FONT} fontWeight={700} fill={RED}>
          Unconstrained, χ²/ν: 3.99 ± 0.09
        </text>
        <text x={140} y={213} fontSize={15} fontFamily={FONT} fontWeight={700} fill={BLUE}>
          Constrained, χ²/ν: 4.97 ± 0.09
        </text>
      </svg>
    </div>
  );
}
